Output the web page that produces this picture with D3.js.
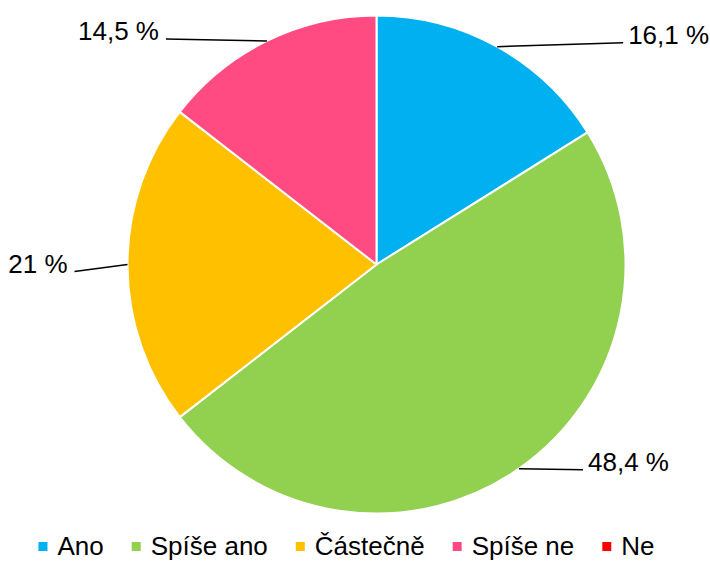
<!DOCTYPE html>
<html>
<head>
<meta charset="utf-8">
<script src="https://cdn.jsdelivr.net/npm/d3@7"></script>
<style>
  html, body { margin: 0; padding: 0; background: #fff; }
  svg { display: block; }
  text { font-family: "Liberation Sans", Arial, sans-serif; fill: #000; }
</style>
</head>
<body>
<svg id="chart" width="710" height="562"></svg>
<script>
// ---- data ----
const categories = ["Ano", "Spíše ano", "Částečně", "Spíše ne", "Ne"];
const values = [16.1, 48.4, 21, 14.5, 0];
const valueLabels = ["16,1 %", "48,4 %", "21 %", "14,5 %", ""];
const colors = ["#00B0F0", "#92D050", "#FFC000", "#FF4B82", "#FF0000"];

// ---- layout ----
const W = 710, H = 562;
const cx = 376.5, cy = 264.5, R = 249;
const fontSize = 26;
// label anchor offsets (from the slice's outer mid-point to the leader line end)
const labelLayout = {
  "Ano":       { end: [126, -4],  side: "right" },
  "Spíše ano": { end: [64, 1],    side: "right" },
  "Částečně":  { end: [-53, 7],   side: "left" },
  "Spíše ne":  { end: [-101, -2], side: "left" }
};

const svg = d3.select("#chart");
const g = svg.append("g").attr("transform", `translate(${cx},${cy})`);

const pie = d3.pie().sort(null).value(d => d.value);
const data = categories.map((c, i) => ({ cat: c, value: values[i], label: valueLabels[i], color: colors[i] }));
const arcs = pie(data);
const arc = d3.arc().innerRadius(0).outerRadius(R);

g.selectAll("path.slice")
  .data(arcs.filter(a => a.data.value > 0))
  .join("path")
  .attr("class", "slice")
  .attr("d", arc)
  .attr("fill", d => d.data.color)
  .attr("stroke", "#fff")
  .attr("stroke-width", 2)
  .attr("stroke-linejoin", "round");

// leader lines + labels
arcs.filter(a => a.data.value > 0).forEach(a => {
  const mid = (a.startAngle + a.endAngle) / 2;
  const px = R * Math.sin(mid), py = -R * Math.cos(mid);
  const lay = labelLayout[a.data.cat];
  const ex = px + lay.end[0], ey = py + lay.end[1];
  g.append("line")
    .attr("x1", px).attr("y1", py)
    .attr("x2", ex).attr("y2", ey)
    .attr("stroke", "#000").attr("stroke-width", 1.5);
  const right = lay.side === "right";
  g.append("text")
    .attr("x", ex + (right ? 5 : -7))
    .attr("y", ey + 1)
    .attr("text-anchor", right ? "start" : "end")
    .attr("font-size", fontSize)
    .text(a.data.label);
});

// legend
const legend = svg.append("g");
const sq = 9, gapIn = 10, gapOut = 28;
const items = legend.selectAll("g.item").data(data).join("g").attr("class", "item");
items.append("rect").attr("width", sq).attr("height", sq).attr("fill", d => d.color);
items.append("text").attr("x", sq + gapIn).attr("y", 0).attr("font-size", fontSize).text(d => d.cat);
const widths = [];
items.each(function () {
  const tw = d3.select(this).select("text").node().getComputedTextLength();
  widths.push(sq + gapIn + tw);
});
const total = d3.sum(widths) + gapOut * (widths.length - 1);
let startX = 346.5 - total / 2;
const baseY = 555;
items.each(function (d, i) {
  d3.select(this).attr("transform", `translate(${startX},0)`);
  d3.select(this).select("rect").attr("y", baseY - 13);
  d3.select(this).select("text").attr("y", baseY);
  startX += widths[i] + gapOut;
});
</script>
</body>
</html>
